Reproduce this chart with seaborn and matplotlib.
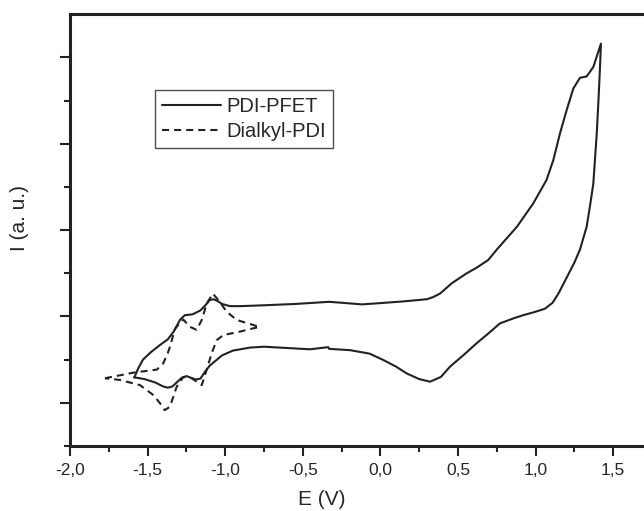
import matplotlib
matplotlib.use("Agg")
import matplotlib.pyplot as plt
import seaborn as sns
import pandas as pd
from matplotlib.ticker import FixedLocator

# PDI-PFET cyclic voltammogram (solid)
pfet_E = [-1.585, -1.56, -1.53, -1.48, -1.42, -1.37, -1.33, -1.29, -1.26, -1.21,
          -1.16, -1.13, -1.10, -1.075, -1.05, -1.02, -0.97, -0.90, -0.75, -0.55,
          -0.33, -0.22, -0.12, 0.00, 0.15, 0.30, 0.34, 0.384, 0.46, 0.556,
          0.62, 0.695, 0.75, 0.88, 0.985, 1.07, 1.114, 1.157, 1.20, 1.243,
          1.286, 1.329, 1.372, 1.421,
          1.415, 1.405, 1.394, 1.372, 1.35, 1.329, 1.286, 1.25, 1.20, 1.15,
          1.11, 1.06, 0.99, 0.92, 0.86, 0.77, 0.70, 0.62, 0.54, 0.449,
          0.39, 0.32, 0.25, 0.17, 0.10, 0.02, -0.07, -0.196, -0.33, -0.336,
          -0.454, -0.60, -0.75, -0.84, -0.95, -1.02, -1.06, -1.10, -1.13, -1.16,
          -1.19, -1.22, -1.25, -1.28, -1.31, -1.34, -1.37, -1.40, -1.45, -1.52,
          -1.585]
pfet_I = [1.59, 1.80, 2.00, 2.17, 2.34, 2.47, 2.66, 2.93, 3.03, 3.05,
          3.14, 3.25, 3.38, 3.40, 3.36, 3.29, 3.24, 3.24, 3.26, 3.29,
          3.34, 3.31, 3.28, 3.31, 3.35, 3.40, 3.45, 3.53, 3.77, 4.00,
          4.13, 4.31, 4.55, 5.08, 5.62, 6.16, 6.62, 7.24, 7.78, 8.28,
          8.53, 8.56, 8.78, 9.32,
          8.78, 8.00, 7.24, 6.08, 5.55, 5.08, 4.55, 4.25, 3.90, 3.55,
          3.32, 3.18, 3.10, 3.03, 2.96, 2.84, 2.62, 2.38, 2.12, 1.84,
          1.60, 1.49, 1.55, 1.68, 1.84, 1.99, 2.14, 2.22, 2.25, 2.29,
          2.24, 2.27, 2.30, 2.28, 2.21, 2.10, 1.98, 1.86, 1.72, 1.56,
          1.54, 1.58, 1.62, 1.58, 1.48, 1.38, 1.35, 1.38, 1.47, 1.55,
          1.59]

# Dialkyl-PDI (dashed)
dialkyl_E = [-1.775, -1.59, -1.44, -1.40, -1.37, -1.356, -1.323, -1.27, -1.227, -1.184,
             -1.151, -1.119, -1.08, -1.044, -0.99, -0.926, -0.78,
             -0.905, -1.012, -1.055, -1.087, -1.12, -1.151, -1.184, -1.216, -1.27,
             -1.313, -1.356, -1.39, -1.42, -1.463, -1.549, -1.678, -1.775]
dialkyl_I = [1.57, 1.70, 1.77, 1.91, 2.15, 2.30, 2.72, 2.93, 2.76, 2.69,
             2.92, 3.30, 3.53, 3.38, 3.11, 2.92, 2.76,
             2.65, 2.57, 2.45, 2.15, 1.76, 1.41, 1.49, 1.57, 1.60,
             1.37, 0.91, 0.83, 0.99, 1.18, 1.41, 1.53, 1.57]

xticks = [-2.0, -1.5, -1.0, -0.5, 0.0, 0.5, 1.0, 1.5]
xtick_labels = ["-2,0", "-1,5", "-1,0", "-0,5", "0,0", "0,5", "1,0", "1,5"]
xminor = [-1.75, -1.25, -0.75, -0.25, 0.25, 0.75, 1.25, 1.75]
yticks = [1, 3, 5, 7, 9]
yminor = [0, 2, 4, 6, 8]

sns.set_style("ticks")
plt.rcParams['font.family'] = ['Liberation Sans', 'DejaVu Sans']

pfet = pd.DataFrame({"E": pfet_E, "I": pfet_I})
dialkyl = pd.DataFrame({"E": dialkyl_E, "I": dialkyl_I})

ink = "#222222"
fig = plt.figure(figsize=(6.44, 5.11), dpi=100)
# axes run past the right edge of the picture, as in the cropped original
ax = fig.add_axes([70 / 644, 65 / 511, 620.8 / 644, 431.7 / 511])

sns.lineplot(data=pfet, x="E", y="I", sort=False, estimator=None, ax=ax,
             color=ink, linewidth=1.5, label="PDI-PFET")
sns.lineplot(data=dialkyl, x="E", y="I", sort=False, estimator=None, ax=ax,
             color=ink, linewidth=1.5, linestyle=(0, (3.4, 2.4)), label="Dialkyl-PDI")

ax.set_xlim(-2.0, 2.0)
ax.set_ylim(0, 10)
ax.xaxis.set_major_locator(FixedLocator(xticks))
ax.set_xticklabels(xtick_labels)
ax.xaxis.set_minor_locator(FixedLocator(xminor))
ax.yaxis.set_major_locator(FixedLocator(yticks))
ax.yaxis.set_minor_locator(FixedLocator(yminor))
ax.set_yticklabels([])

for side in ["top", "left", "bottom"]:
    ax.spines[side].set_linewidth(2.2)
    ax.spines[side].set_color(ink)
ax.spines["right"].set_visible(False)

ax.tick_params(which="major", length=7, width=1.5, color=ink, labelsize=12.5, pad=5)
ax.tick_params(which="minor", length=4.5, width=1.5, color=ink)

ax.set_xlabel("E (V)", fontsize=15)
ax.set_ylabel("I (a. u.)", fontsize=15)
ax.xaxis.set_label_coords(0.405, -0.102)
ax.yaxis.set_label_coords(-0.066, 0.528)

leg = ax.legend(loc="upper left", bbox_to_anchor=(0.137, 0.825), borderaxespad=0,
                fontsize=14.5, handlelength=2.9, handletextpad=0.3, labelspacing=0.3,
                borderpad=0.35, frameon=True, fancybox=False)
leg.get_frame().set_edgecolor(ink)
leg.get_frame().set_linewidth(1.0)

fig.savefig("out.png", dpi=100)
